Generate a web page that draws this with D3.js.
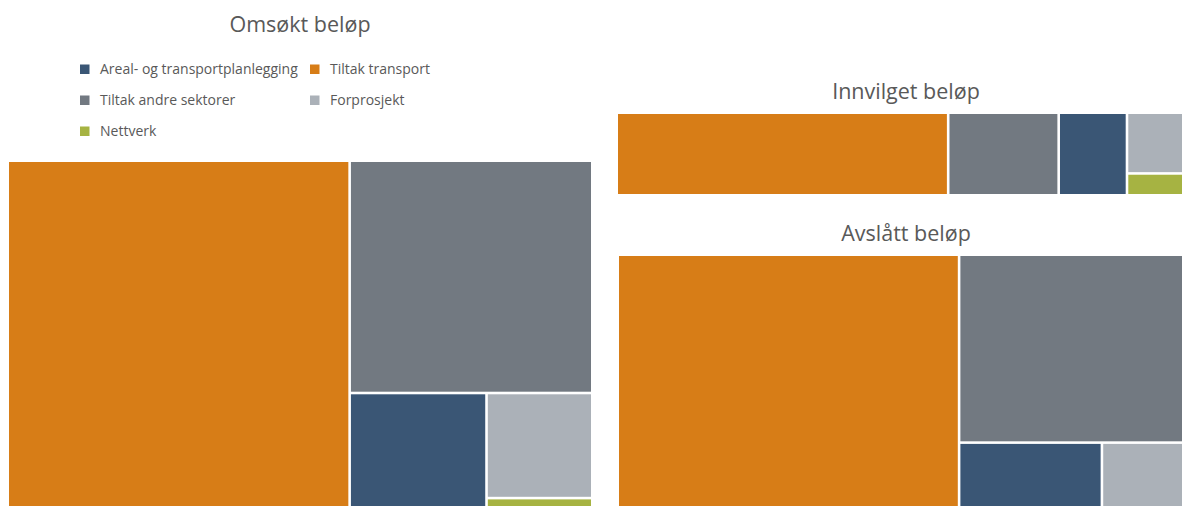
<!DOCTYPE html>
<html>
<head>
<meta charset="utf-8">
<script src="https://cdn.jsdelivr.net/npm/d3@7"></script>
<style>
  html, body { margin: 0; padding: 0; background: #ffffff; }
  svg { display: block; }
  text { font-family: "Open Sans", "Noto Sans", sans-serif; fill: #595959; }
</style>
</head>
<body>
<svg id="chart" width="1182" height="506"></svg>
<script>
// ---- Data ----
const categories = [
  "Areal- og transportplanlegging",
  "Tiltak transport",
  "Tiltak andre sektorer",
  "Forprosjekt",
  "Nettverk"
];
const colors = ["#3A5675", "#D77D17", "#727981", "#ABB1B8", "#A6B342"];
const omsoktValues    = [198, 1302, 573, 113, 40];
const innvilgetValues = [68, 330, 110, 50, 18];
const avslattValues   = [156, 1006, 438, 78, 24];
const titles = ["Omsøkt beløp", "Innvilget beløp", "Avslått beløp"];

// ---- Drawing ----
const svg = d3.select("#chart");
const color = d3.scaleOrdinal().domain(categories).range(colors);

const panels = [
  { title: titles[0], values: omsoktValues,    x0: 9,   y0: 162, x1: 591,  y1: 534, tx: 300, ty: 32 },
  { title: titles[1], values: innvilgetValues, x0: 618, y0: 114, x1: 1194, y1: 194, tx: 906, ty: 99 },
  { title: titles[2], values: avslattValues,   x0: 619, y0: 256, x1: 1194, y1: 552, tx: 906, ty: 241 }
];

panels.forEach(p => {
  const root = d3.hierarchy({ children: categories.map((c, i) => ({ name: c, value: p.values[i] })) })
    .sum(d => d.value || 0)
    .sort((a, b) => b.value - a.value);
  d3.treemap()
    .tile(d3.treemapSquarify)
    .size([p.x1 - p.x0, p.y1 - p.y0])
    .paddingInner(2.6)(root);

  const g = svg.append("g").attr("transform", `translate(${p.x0},${p.y0})`);
  g.selectAll("rect")
    .data(root.leaves())
    .join("rect")
    .attr("x", d => d.x0)
    .attr("y", d => d.y0)
    .attr("width", d => d.x1 - d.x0)
    .attr("height", d => d.y1 - d.y0)
    .attr("fill", d => color(d.data.name));

  svg.append("text")
    .attr("x", p.tx)
    .attr("y", p.ty)
    .attr("text-anchor", "middle")
    .style("font-size", "21.5px")
    .text(p.title);
});

// ---- Legend ----
const legendPos = [
  { x: 80, y: 69 }, { x: 310, y: 69 },
  { x: 80, y: 100 }, { x: 310, y: 100 },
  { x: 80, y: 131 }
];
const legend = svg.append("g");
const items = legend.selectAll("g")
  .data(categories)
  .join("g")
  .attr("transform", (d, i) => `translate(${legendPos[i].x},${legendPos[i].y})`);
items.append("rect")
  .attr("x", 0).attr("y", -4.5)
  .attr("width", 9.5).attr("height", 9.5)
  .attr("fill", d => color(d));
items.append("text")
  .attr("x", 20)
  .attr("y", 0)
  .attr("dy", "0.35em")
  .style("font-size", "14px")
  .text(d => d);
</script>
</body>
</html>
